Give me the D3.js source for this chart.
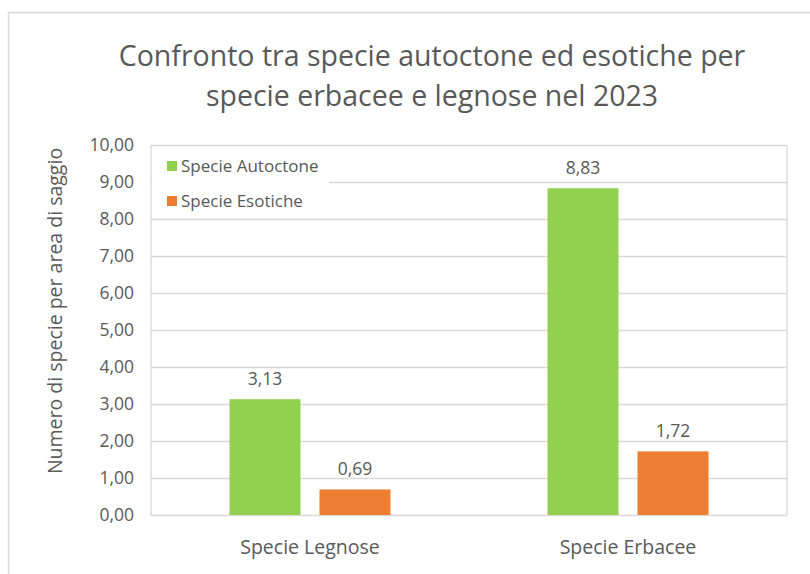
<!DOCTYPE html>
<html>
<head>
<meta charset="utf-8">
<script src="https://cdn.jsdelivr.net/npm/d3@7"></script>
<style>
  html, body { margin: 0; padding: 0; background: #fff; }
  svg { display: block; font-family: "Open Sans", Lato, sans-serif; }
</style>
</head>
<body>
<svg id="chart" width="810" height="574"></svg>
<script>
// Chart data
const categories = ["Specie Legnose", "Specie Erbacee"];
const seriesNames = ["Specie Autoctone", "Specie Esotiche"];
const autoctone = [3.13, 8.83];
const esotiche = [0.69, 1.72];
const yTicks = [0, 1, 2, 3, 4, 5, 6, 7, 8, 9, 10];
const titleLines = ["Confronto tra specie autoctone ed esotiche per", "specie erbacee e legnose nel 2023"];
const yAxisTitle = "Numero di specie per area di saggio";

const colors = ["#92D050", "#ED7D31"];
const textColor = "#595959";
const gridColor = "#D9D9D9";

const svg = d3.select("#chart");
const fmt = v => d3.format(".2f")(v).replace(".", ",");

// Chart frame (open at right and bottom edges)
svg.append("path")
  .attr("d", "M8.5,574 V12.5 H810")
  .attr("fill", "none")
  .attr("stroke", "#D9D9D9")
  .attr("stroke-width", 1.5);

const plot = { left: 151, right: 787, top: 145, bottom: 515 };

const x0 = d3.scaleBand().domain(categories).range([plot.left, plot.right]).paddingInner(0).paddingOuter(0);
const groupWidth = 161;
const x1 = d3.scaleBand().domain(seriesNames).range([0, groupWidth]).paddingInner(19 / 90).paddingOuter(0);
const y = d3.scaleLinear().domain([0, 10]).range([plot.bottom, plot.top]);

// Gridlines and tick labels
const yAxis = d3.axisLeft(y).tickValues(yTicks).tickFormat(fmt).tickSize(-(plot.right - plot.left)).tickPadding(17);
const gy = svg.append("g").attr("transform", `translate(${plot.left},0)`).call(yAxis);
gy.select(".domain").remove();
gy.selectAll(".tick line").attr("stroke", gridColor).attr("stroke-width", 1.3);
gy.selectAll(".tick text").attr("fill", textColor).style("font-size", "17.5px").style("font-family", "'Open Sans', sans-serif");

svg.append("line").attr("x1", plot.left).attr("x2", plot.left).attr("y1", plot.top).attr("y2", plot.bottom)
  .attr("stroke", gridColor).attr("stroke-width", 1.3);
svg.append("line").attr("x1", plot.right).attr("x2", plot.right).attr("y1", plot.top).attr("y2", plot.bottom)
  .attr("stroke", gridColor).attr("stroke-width", 1.3);

// Bars
const data = categories.map((c, i) => ({ cat: c, values: [
  { s: seriesNames[0], v: autoctone[i], color: colors[0] },
  { s: seriesNames[1], v: esotiche[i], color: colors[1] }
]}));

const groups = svg.append("g").selectAll("g").data(data).join("g")
  .attr("transform", d => `translate(${x0(d.cat) + (x0.bandwidth() - groupWidth) / 2},0)`);

groups.selectAll("rect").data(d => d.values).join("rect")
  .attr("x", d => x1(d.s))
  .attr("width", x1.bandwidth())
  .attr("y", d => y(d.v))
  .attr("height", d => y(0) - y(d.v))
  .attr("fill", d => d.color);

groups.selectAll("text.val").data(d => d.values).join("text")
  .attr("class", "val")
  .attr("x", d => x1(d.s) + x1.bandwidth() / 2)
  .attr("y", d => y(d.v) - 14)
  .attr("text-anchor", "middle")
  .attr("fill", textColor)
  .style("font-size", "17.5px")
  .text(d => fmt(d.v));

// Category labels
svg.append("g").selectAll("text").data(categories).join("text")
  .attr("x", d => x0(d) + x0.bandwidth() / 2)
  .attr("y", 554)
  .attr("text-anchor", "middle")
  .attr("fill", textColor)
  .style("font-size", "19.5px")
  .text(d => d);

// Legend (white box over gridlines, top-left of plot)
const legend = svg.append("g");
legend.append("rect").attr("x", plot.left + 1).attr("y", 150).attr("width", 177).attr("height", 68).attr("fill", "#fff");
const li = legend.selectAll("g").data(seriesNames).join("g")
  .attr("transform", (d, i) => `translate(167,${166 + i * 35})`);
li.append("rect").attr("x", 0).attr("y", -5).attr("width", 10).attr("height", 10).attr("fill", (d, i) => colors[i]);
li.append("text").attr("x", 14).attr("y", 0).attr("dy", "0.35em")
  .attr("fill", textColor).style("font-size", "17px").text(d => d);

// Title
svg.append("text")
  .attr("x", 432).attr("y", 66)
  .attr("text-anchor", "middle")
  .attr("fill", textColor)
  .style("font-size", "28.5px")
  .selectAll("tspan").data(titleLines).join("tspan")
  .attr("x", 432).attr("dy", (d, i) => i === 0 ? 0 : 40)
  .text(d => d);

// Y axis title
svg.append("text")
  .attr("transform", `translate(62,${311}) rotate(-90)`)
  .attr("text-anchor", "middle")
  .attr("fill", textColor)
  .style("font-size", "19.5px")
  .text(yAxisTitle);
</script>
</body>
</html>
